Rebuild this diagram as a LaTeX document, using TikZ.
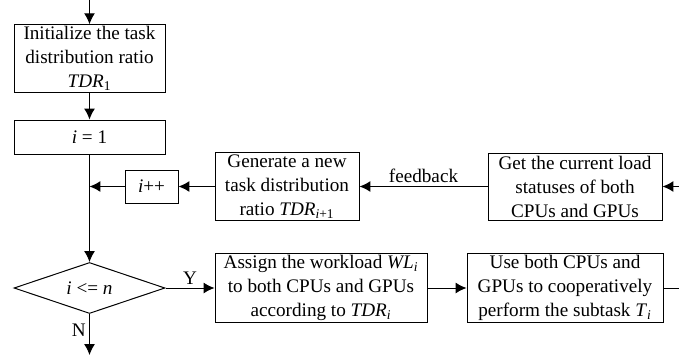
\documentclass[tikz,border=0pt]{standalone}
\usepackage{xcolor}
\usepackage{fontspec}
\setmainfont{Liberation Serif}
\usepackage{tikz}
\usetikzlibrary{arrows, arrows.meta, shapes.geometric}

\tikzset{
	stepbox/.style={draw, rectangle, align=center, inner sep=1pt,
		font=\fontsize{11.5}{14.4}\selectfont},
	decision/.style={draw, diamond, aspect=3, inner sep=0pt,
		font=\fontsize{11.5}{14.4}\selectfont}
}

\begin{document}
\begin{tikzpicture}[->,
			>={Latex[length=6.5pt,width=6.5pt]},
			x=0.6pt, y=-0.6pt,
			auto,
			semithick]
			\useasboundingbox (0,0) rectangle (679,358);
			\node at (89.5,58.5) (init) [stepbox, minimum width=90.6pt, minimum height=40.2pt] {Initialize the task\\distribution ratio\\\textit{TDR}\textsubscript{1}};
			\node at (89.5,137) (one) [stepbox, minimum width=90.6pt, minimum height=20.4pt] {\textit{i} = 1};
			\node at (151.5,186.5) (inc) [stepbox, minimum width=31.8pt, minimum height=19.8pt] {\textit{i}++};
			\node at (287,186.5) (gen) [stepbox, minimum width=86.4pt, minimum height=40.2pt] {Generate a new\\task distribution\\ratio \textit{TDR}\textsubscript{\textit{i}+1}};
			\node at (575,186.5) (get) [stepbox, minimum width=104.4pt, minimum height=40.2pt] {Get the current load\\statuses of both\\CPUs and GPUs};
			\node at (89.5,288) (cond) [decision, minimum width=90.6pt, minimum height=30.6pt] {\textit{i} <= \textit{n}};
			\node at (321,288) (assign) [stepbox, minimum width=127.2pt, minimum height=40.8pt] {Assign the workload \textit{WL}\textsubscript{\textit{i}}\\to both CPUs and GPUs\\according to \textit{TDR}\textsubscript{\textit{i}}};
			\node at (565,288) (use) [stepbox, minimum width=117.6pt, minimum height=40.8pt] {Use both CPUs and\\GPUs to cooperatively\\perform the subtask \textit{T}\textsubscript{\textit{i}}};
			\coordinate (start) at (89.5,0);
			\coordinate (join) at (89.5,186.5);
			\coordinate (back) at (679,186.5);
			\coordinate (out) at (679,288);
			\coordinate (stop) at (89.5,355);
			\draw[->, black] (start) -- (init);
			\draw[->, black] (init) -- (one);
			\draw[->, black] (one) -- (cond);
			\draw[->, black] (inc) -- (join);
			\draw[->, black] (gen) -- (inc);
			\draw[->, black] (get) -- node[swap, font=\fontsize{11.5}{14.4}\selectfont, inner sep=2pt] {feedback} (gen);
			\draw[->, black] (back) -- (get);
			\draw[->, black] (cond) -- node[font=\fontsize{11.5}{14.4}\selectfont, inner sep=2pt] {Y} (assign);
			\draw[->, black] (assign) -- (use);
			\draw[-, black] (use) -- (out);
			\draw[->, black] (cond) -- node[swap, font=\fontsize{11.5}{14.4}\selectfont, inner sep=2pt, pos=0.4] {N} (stop);
		\end{tikzpicture}
\end{document}
